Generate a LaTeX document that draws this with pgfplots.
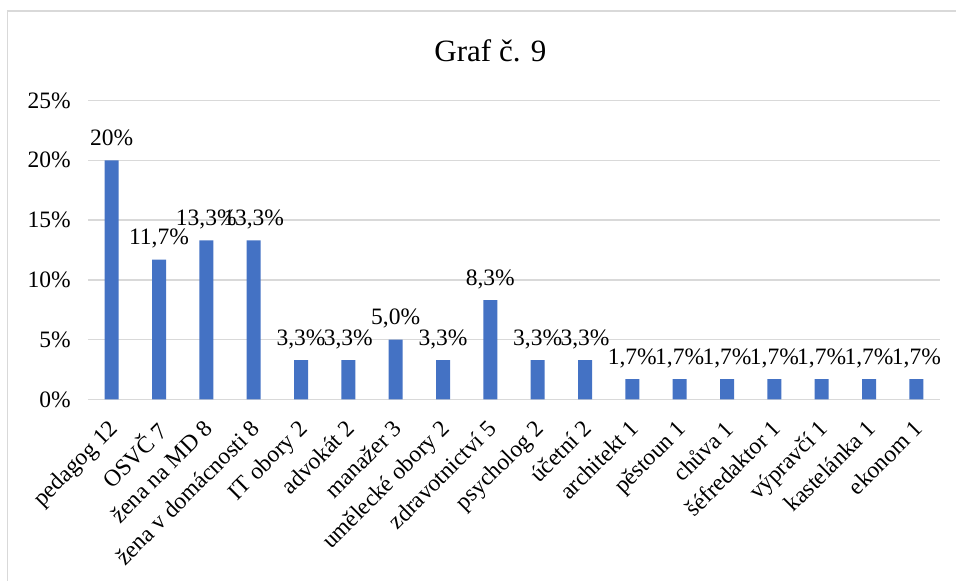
\documentclass[border=0pt]{standalone}
\usepackage{pgfplots}
\pgfplotsset{compat=1.18}
\usepackage{fontspec}
\setmainfont{Liberation Serif}
\definecolor{barblue}{HTML}{4472C4}
\definecolor{gridgray}{HTML}{D9D9D9}
\newcommand{\tickfont}{\fontsize{23.5bp}{28bp}\selectfont}
\begin{document}
\begin{tikzpicture}[x=1bp,y=1bp]
\useasboundingbox (0,0) rectangle (956,581);
% chart frame (cut off at right and bottom in the reference)
\draw[gridgray, line width=1.5bp] (7.5,-10) -- (7.5,570) -- (970,570);
\node[anchor=base, font=\fontsize{31bp}{36bp}\selectfont] at (490.4,519) {Graf č. 9};
\begin{axis}[
  at={(88bp,181.5bp)}, anchor=south west,
  width=852bp, height=299bp, scale only axis,
  xmin=-0.5, xmax=17.5, ymin=0, ymax=25,
  ybar, bar width=14bp,
  axis line style={draw=none},
  major tick length=0pt,
  ymajorgrids,
  major grid style={draw=gridgray, line width=1.4bp},
  ytick={0,5,10,15,20,25},
  yticklabels={0\%,5\%,10\%,15\%,20\%,25\%},
  yticklabel style={font=\tickfont, anchor=east, inner sep=0pt, xshift=-17bp},
  xtick={0,...,17},
  xticklabels={pedagog 12, OSVČ 7, žena na MD 8, žena v domácnosti 8, IT obory 2,
    advokát 2, manažer 3, umělecké obory 2, zdravotnictví 5, psycholog 2, účetní 2,
    architekt 1, pěstoun 1, chůva 1, šéfredaktor 1, výpravčí 1, kastelánka 1, ekonom 1},
  xticklabel style={font=\tickfont, anchor=north east, inner sep=0pt,
    xshift=-4bp, yshift=-19bp, rotate=45},
  point meta=explicit symbolic,
  nodes near coords,
  nodes near coords style={font=\tickfont, anchor=base, yshift=15bp, inner sep=0pt},
]
\addplot[fill=barblue, draw=none, bar shift=0pt] coordinates {
  (0,20) [20\%]
  (1,11.7) [11,7\%]
  (2,13.3) [13,3\%]
  (3,13.3) [13,3\%]
  (4,3.3) [3,3\%]
  (5,3.3) [3,3\%]
  (6,5.0) [5,0\%]
  (7,3.3) [3,3\%]
  (8,8.3) [8,3\%]
  (9,3.3) [3,3\%]
  (10,3.3) [3,3\%]
  (11,1.7) [1,7\%]
  (12,1.7) [1,7\%]
  (13,1.7) [1,7\%]
  (14,1.7) [1,7\%]
  (15,1.7) [1,7\%]
  (16,1.7) [1,7\%]
  (17,1.7) [1,7\%]
};
\end{axis}
\end{tikzpicture}
\end{document}
